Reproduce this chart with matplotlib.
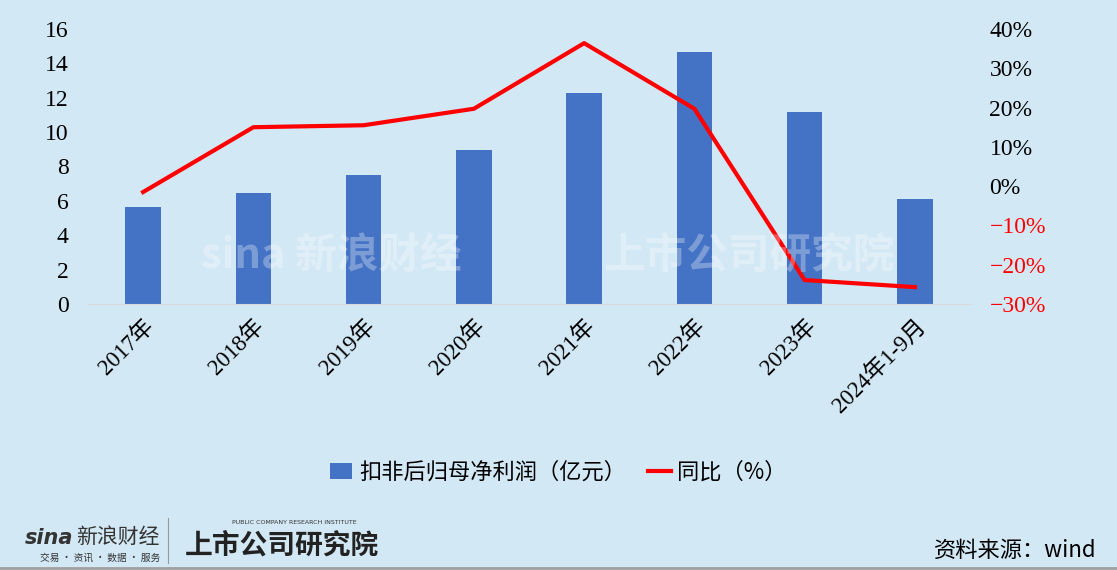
import numpy as np
import matplotlib.pyplot as plt

plt.rcParams['font.family'] = ['Liberation Serif', 'Noto Sans CJK SC', 'DejaVu Sans']

# data
years = ['2017年', '2018年', '2019年', '2020年', '2021年', '2022年', '2023年', '2024年1-9月']
profit = [5.64, 6.46, 7.5, 8.96, 12.27, 14.66, 11.17, 6.11]
yoy = [-1.5, 15.0, 15.5, 19.7, 36.4, 19.7, -23.9, -25.7]
left_ticks = [0, 2, 4, 6, 8, 10, 12, 14, 16]
right_ticks = [-30, -20, -10, 0, 10, 20, 30, 40]

bg = '#D3E8F5'
fig = plt.figure(figsize=(11.17, 5.70), dpi=100, facecolor=bg)
ax = fig.add_axes([88 / 1117, 1 - 304 / 570, (970 - 88) / 1117, (304 - 29) / 570])
ax.set_facecolor(bg)
x = np.arange(len(years))
bars = ax.bar(x, profit, width=0.32, color='#4472C4', label='扣非后归母净利润（亿元）', zorder=2)
ax.set_xlim(-0.5, len(years) - 0.5)
ax.set_ylim(0, 16)
ax.set_yticks(left_ticks)
ax.set_xticks(x)
ax.set_xticklabels(years, rotation=45, ha='right', rotation_mode='anchor', fontsize=16.5)
ax.tick_params(axis='y', labelsize=17, length=0, pad=14)
ax.tick_params(axis='x', length=0, pad=8)
for s in ['top', 'right', 'left']:
    ax.spines[s].set_visible(False)
ax.spines['bottom'].set_color('#D9D9D9')

ax2 = ax.twinx()
line, = ax2.plot(x, yoy, color='#FF0000', lw=3, label='同比（%）', zorder=3)
ax2.set_ylim(-30, 40)
ax2.set_yticks(right_ticks)
ax2.set_yticklabels([f'{t}%'.replace('-', '−') for t in right_ticks])
ax2.tick_params(axis='y', labelsize=17, length=0, pad=14)
for lab, t in zip(ax2.get_yticklabels(), right_ticks):
    lab.set_color('#FF0000' if t < 0 else 'black')
for s in ax2.spines.values():
    s.set_visible(False)

# watermark
fig.text(0.18, 0.53, 'sina 新浪财经', fontsize=30, color='white', alpha=0.3,
         family=['Noto Sans CJK SC'], fontweight='bold', fontstyle='italic')
fig.text(0.54, 0.53, '上市公司研究院', fontsize=30, color='white', alpha=0.3,
         family=['Noto Sans CJK SC'], fontweight='bold', fontstyle='italic')

fig.legend(handles=[bars, line], loc='center', bbox_to_anchor=(0.5, 1 - 472 / 570),
           ncol=2, frameon=False, handlelength=1.0, handletextpad=0.3,
           columnspacing=1.0, prop={'family': ['Noto Sans CJK SC'], 'size': 16})

# footer logos
fig.text(25 / 1117, 1 - 538 / 570, 'sina', fontsize=15, color='#333333', fontweight='bold',
         fontstyle='italic', family=['DejaVu Sans'], va='center')
fig.text(76 / 1117, 1 - 537 / 570, '新浪财经', fontsize=15, color='#333333',
         family=['Noto Sans CJK SC'], va='center')
fig.text(40 / 1117, 1 - 558 / 570, '交易 · 资讯 · 数据 · 服务', fontsize=7, color='#333333',
         family=['Noto Sans CJK SC'], va='center')
fig.add_artist(plt.Line2D([168 / 1117, 168 / 1117], [1 - 518 / 570, 1 - 563 / 570],
                          color='#999999', lw=0.8))
fig.text(185 / 1117, 1 - 545 / 570, '上市公司研究院', fontsize=20, color='#222222',
         family=['Noto Sans CJK SC'], fontweight='bold', fontstyle='italic', va='center')
fig.text(232 / 1117, 1 - 523 / 570, 'PUBLIC COMPANY RESEARCH INSTITUTE', fontsize=4.5,
         color='#333333', family=['DejaVu Sans'], va='center')
fig.text(1097 / 1117, 1 - 550 / 570, '资料来源：wind', fontsize=16, color='black',
         family=['Noto Sans CJK SC'], ha='right', va='center')
fig.add_artist(plt.Line2D([0, 1], [1 - 568 / 570, 1 - 568 / 570], color='#A0A0A0', lw=2))

fig.savefig('out.png', dpi=100, facecolor=bg)
